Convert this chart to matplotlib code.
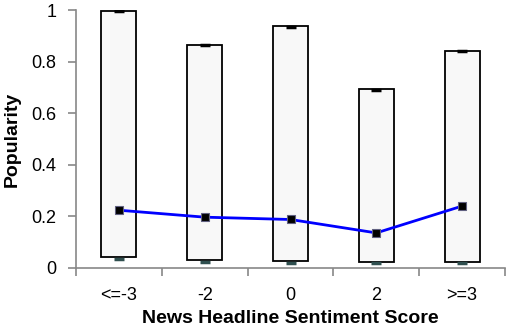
import matplotlib.pyplot as plt
import numpy as np

# data
categories = ['<=-3', '-2', '0', '2', '>=3']
box_top = [0.998, 0.866, 0.938, 0.694, 0.843]
box_bottom = [0.043, 0.031, 0.027, 0.023, 0.025]
mean_pop = [0.224, 0.197, 0.188, 0.136, 0.240]
max_pop = [0.995, 0.863, 0.935, 0.691, 0.840]
min_pop = [0.035, 0.024, 0.018, 0.018, 0.018]

plt.rcParams['font.family'] = ['Liberation Sans', 'DejaVu Sans']

fig = plt.figure(figsize=(5.11, 3.35), dpi=100)
ax = fig.add_axes([76 / 511, 0.2, (505 - 76) / 511, (268 - 10) / 335])

x = np.arange(len(categories))
heights = [t - b for t, b in zip(box_top, box_bottom)]
ax.bar(x, heights, bottom=box_bottom, width=0.41, color='#f8f8f8',
       edgecolor='black', linewidth=1.3, zorder=2)

# min / max markers
ax.scatter(x, max_pop, marker='_', s=60, color='black', linewidths=2.5, zorder=3)
ax.scatter(x, min_pop, marker='_', s=60, color='#2f4f4f', linewidths=2.5, zorder=3)

# mean line
ax.plot(x, mean_pop, color='#0000ff', linewidth=2, zorder=4)
ax.plot(x, mean_pop, linestyle='none', marker='s', markersize=5.5,
        markerfacecolor='black', markeredgecolor='#606080', markeredgewidth=0.8, zorder=5)

ax.set_xlim(-0.5, len(categories) - 0.5)
ax.set_ylim(0, 1)
ax.set_yticks([0, 0.2, 0.4, 0.6, 0.8, 1])
ax.set_yticklabels(['0', '0.2', '0.4', '0.6', '0.8', '1'])
ax.set_xticks(x)
ax.set_xticklabels(categories)
ax.set_xticks(np.arange(len(categories) + 1) - 0.5, minor=True)

for s in ['top', 'right']:
    ax.spines[s].set_visible(False)
for s in ['left', 'bottom']:
    ax.spines[s].set_color('#888888')
    ax.spines[s].set_linewidth(1.2)

ax.tick_params(axis='y', direction='out', length=6, color='#888888', width=1.2,
               labelsize=13, pad=8)
ax.tick_params(axis='x', which='major', length=0, labelsize=13, pad=14)
ax.tick_params(axis='x', which='minor', direction='out', length=6, color='#888888', width=1.2)

ax.set_ylabel('Popularity', fontsize=14, fontweight='bold', labelpad=8)
ax.set_xlabel('News Headline Sentiment Score', fontsize=14, fontweight='bold', labelpad=4)

fig.savefig('out.png', dpi=100)
